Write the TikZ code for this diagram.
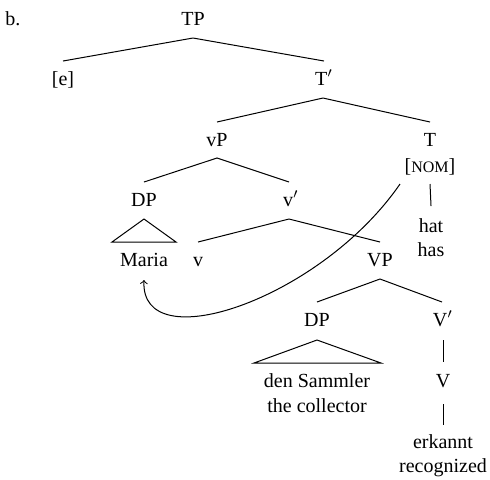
\documentclass[tikz,border=0pt]{standalone}
\usepackage{fontspec}
\setmainfont{Liberation Serif}
\begin{document}
\begin{tikzpicture}[x=0.5pt,y=-0.5pt,
  lbl/.style={anchor=base,inner sep=0pt,font=\fontsize{10}{12.25}\selectfont},
  br/.style={line width=0.5pt},
  tri/.style={line width=0.5pt,line join=miter}]
\useasboundingbox (0,0) rectangle (490,479);
% labels
\node[lbl,anchor=base west] (b) at (5,25) {b.};
\node[lbl] (TP) at (193,25) {TP};
\node[lbl] (e) at (63,85) {[e]};
\node[lbl] (Tb) at (324,85) {T$'$};
\node[lbl] (vP) at (217,146) {vP};
\node[lbl] (T) at (430,146) {T};
\node[lbl] (NOM) at (430,172) {[{\fontsize{8}{9}\selectfont NOM}]};
\node[lbl] (DP1) at (144,206) {DP};
\node[lbl] (vb) at (291,206) {v$'$};
\node[lbl] (hat) at (431,232) {hat};
\node[lbl] (has) at (431,256) {has};
\node[lbl] (Maria) at (144,266) {Maria};
\node[lbl] (v) at (198,266) {v};
\node[lbl] (VP) at (380,266) {VP};
\node[lbl] (DP2) at (317,326) {DP};
\node[lbl] (Vb) at (443,326) {V$'$};
\node[lbl] (den) at (317,387) {den Sammler};
\node[lbl] (the) at (317,412) {the collector};
\node[lbl] (V) at (443,387) {V};
\node[lbl] (erk) at (443,448) {erkannt};
\node[lbl] (rec) at (443,472) {recognized};
% branches
\draw[br] ([yshift=12pt]e.base) -- ([yshift=-6.5pt]TP.base) -- ([yshift=12pt]Tb.base);
\draw[br] ([yshift=12pt]vP.base) -- ([xshift=-0.5pt,yshift=-6.5pt]Tb.base) -- ([yshift=12pt]T.base);
\draw[br] ([yshift=12pt]DP1.base) -- ([yshift=-6pt]vP.base) -- ([xshift=-1pt,yshift=12pt]vb.base);
\draw[br] ([yshift=12pt]v.base) -- ([xshift=-1pt,yshift=-6.5pt]vb.base) -- ([yshift=12pt]VP.base);
\draw[br] ([yshift=12pt]DP2.base) -- ([yshift=-6.5pt]VP.base) -- ([xshift=-0.5pt,yshift=12pt]Vb.base);
\draw[br] ([yshift=-6pt]NOM.base) -- ([yshift=13pt]hat.base);
\draw[br] ([yshift=-7pt]Vb.base) -- ([yshift=12.5pt]V.base);
\draw[br] ([yshift=-8.5pt]V.base) -- ([yshift=11.5pt]erk.base);
% triangles
\draw[tri] ([yshift=-6.5pt]DP1.base) -- ([xshift=-16pt,yshift=12pt]Maria.base) -- ([xshift=16pt,yshift=12pt]Maria.base) -- cycle;
\draw[tri] ([yshift=-7pt]DP2.base) -- ([xshift=-31.5pt,yshift=12pt]den.base) -- ([xshift=32pt,yshift=12pt]den.base) -- cycle;
% movement arrow
\coordinate (arrS) at ([xshift=-15pt,yshift=-6pt]NOM.base);
\draw[br,->] (arrS) .. controls (320,300) and (140,360) .. ([yshift=-7pt]Maria.base);
\end{tikzpicture}
\end{document}
